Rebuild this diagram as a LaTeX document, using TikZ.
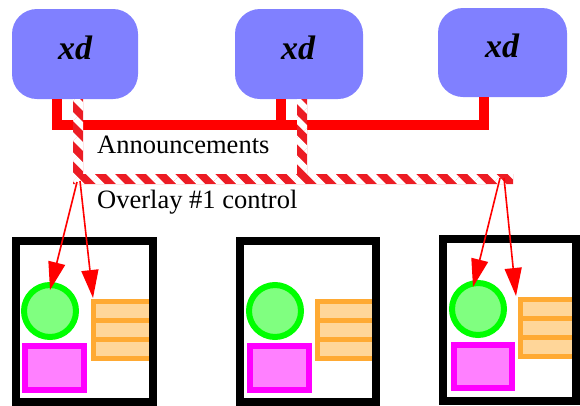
\documentclass[tikz,border=0pt]{standalone}
\usepackage{fontspec}
\setmainfont{Liberation Serif}
\usetikzlibrary{arrows.meta,patterns.meta}
\definecolor{hostblue}{HTML}{8080FF}
\definecolor{stripered}{HTML}{EC1C24}
\definecolor{ringgreen}{HTML}{00FF00}
\definecolor{discgreen}{HTML}{80FF80}
\definecolor{boxmag}{HTML}{FF00FF}
\definecolor{boxpink}{HTML}{FF80FF}
\definecolor{stackorange}{HTML}{FFAA33}
\definecolor{stackfill}{HTML}{FFD699}
\tikzset{
  host/.style={fill=hostblue, rounded corners=25pt},
  hostlabel/.style={anchor=base, font=\fontsize{34}{34}\selectfont\bfseries\itshape, inner sep=0pt},
  bus/.style={draw=red, line width=10pt, line join=miter},
  stripefill/.style={fill=stripered},
  stripes/.style={pattern={Lines[angle=-45,distance=14.2pt,line width=6.2pt]}, pattern color=white},
  caption/.style={anchor=base west, font=\fontsize{26.5}{26.5}\selectfont, inner sep=0pt},
  frame/.style={draw=black, line width=8pt, fill=white},
  disc/.style={draw=ringgreen, fill=discgreen, line width=6pt},
  pinkbox/.style={draw=boxmag, fill=boxpink, line width=6pt},
  stack/.style={draw=stackorange, fill=stackfill, line width=5pt},
  ctl/.style={draw=red, line width=1.6pt, -{Triangle[length=28pt,width=17pt]}}
}
\begin{document}
\begin{tikzpicture}[x=1pt,y=-1pt]
\useasboundingbox (0,0) rectangle (580,405);

% hosts
\fill[host] (12,9) rectangle (138,99);
\fill[host] (235,9) rectangle (363,99);
\fill[host] (438,8) rectangle (567,97);
\node[hostlabel] (h1) at (75,59) {xd};
\node[hostlabel] (h2) at (298,59) {xd};
\node[hostlabel] (h3) at (502,57) {xd};

% announcement bus
\draw[bus] (57,99) -- (57,125) -- (484,125) -- (484,97);
\draw[bus] (281,99) -- (281,125);

% overlay control channel
\path[stripefill] (73,99) -- (83,99) -- (83,174) -- (297,174) -- (297,99) -- (307,99)
  -- (307,174) -- (513,174) -- (513,184) -- (73,184) -- cycle;
\path[stripes] (73,99) -- (83,99) -- (83,174) -- (297,174) -- (297,99) -- (307,99)
  -- (307,174) -- (513,174) -- (513,184) -- (73,184) -- cycle;

\node[caption] (ann) at (97,153) {Announcements};
\node[caption] (ovl) at (97,208) {Overlay \#1 control};

% workspaces
\draw[frame] (16,241) rectangle (153,402);
\draw[frame] (240,241) rectangle (376,402);
\draw[frame] (443,239) rectangle (576,401);

% panel 1
\draw[stack] (93.5,301.5) rectangle (153,320.5);
\draw[stack] (93.5,320.5) rectangle (153,339.5);
\draw[stack] (93.5,339.5) rectangle (153,358.5);
\draw[disc] (50,311) circle (26);
\draw[pinkbox] (25,346) rectangle (84,390);

% panel 2
\draw[stack] (317.5,301.5) rectangle (376,320.5);
\draw[stack] (317.5,320.5) rectangle (376,339.5);
\draw[stack] (317.5,339.5) rectangle (376,358.5);
\draw[disc] (275,311) circle (26);
\draw[pinkbox] (250,346) rectangle (309,390);

% panel 3
\draw[stack] (520.5,299.5) rectangle (580,318.5);
\draw[stack] (520.5,318.5) rectangle (580,337.5);
\draw[stack] (520.5,337.5) rectangle (580,356.5);
\draw[disc] (478,309) circle (26);
\draw[pinkbox] (454,345) rectangle (512,388);

% frame edges over the stacks
\draw[black, line width=8pt] (153,237) -- (153,405);
\draw[black, line width=8pt] (376,237) -- (376,405);
\draw[black, line width=8pt] (576,235) -- (576,405);

% control arrows
\coordinate (s1a) at (77,182);
\coordinate (s1b) at (80,181);
\coordinate (t1a) at (50,290);
\coordinate (t1b) at (93,298);
\coordinate (s3a) at (500,178);
\coordinate (s3b) at (504,178);
\coordinate (t3a) at (473,287);
\coordinate (t3b) at (516,296);
\draw[ctl] (s1a) -- (t1a);
\draw[ctl] (s1b) -- (t1b);
\draw[ctl] (s3a) -- (t3a);
\draw[ctl] (s3b) -- (t3b);
\end{tikzpicture}
\end{document}
